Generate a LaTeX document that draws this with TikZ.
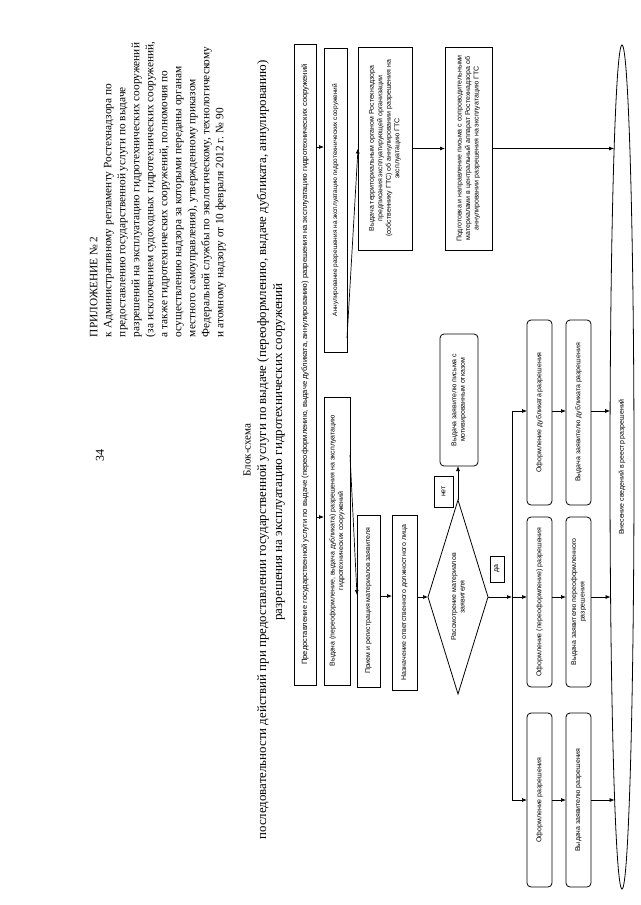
\documentclass[tikz,border=0pt]{standalone}
\usepackage{fontspec}
\setmainfont{Liberation Serif}
\newfontfamily\boxfont{Liberation Sans}
\usetikzlibrary{shapes.geometric,arrows.meta}
\begin{document}
\begin{tikzpicture}[x=1pt,y=-1pt,
  every node/.style={inner sep=0pt, outer sep=0pt},
  bx/.style={draw, line width=0.8pt, rectangle, rotate=90, align=center, inner sep=1pt, font=\boxfont\fontsize{7}{8.5}\selectfont},
  rbx/.style={bx, rounded corners=4pt},
  arr/.style={line width=0.7pt, -{Latex[length=5pt,width=4pt]}},
  ln/.style={line width=0.7pt},
  hdr/.style={rotate=90, align=left}
]
\fill[white] (0,0) rectangle (640,905);
\useasboundingbox (0,0) rectangle (640,905);

% header
\node[rotate=90, font=\fontsize{12}{14}\selectfont] (pg) at (100,455) {34};
\node[hdr, anchor=north west, font=\fontsize{11.3}{14}\selectfont] (hd) at (90,337) {ПРИЛОЖЕНИЕ № 2\\
к Административному регламенту Ростехнадзора по\\
предоставлению государственной услуги по выдаче\\
разрешений на эксплуатацию гидротехнических сооружений\\
(за исключением судоходных гидротехнических сооружений,\\
а также гидротехнических сооружений, полномочия по\\
осуществлению надзора за которыми переданы органам\\
местного самоуправления), утвержденному приказом\\
Федеральной службы по экологическому, технологическому\\
и атомному надзору от 10 февраля 2012 г. № 90};
\node[rotate=90, font=\fontsize{11}{13}\selectfont] (bs) at (247,450) {Блок-схема};
\node[rotate=90, font=\fontsize{12.9}{15}\selectfont] (t1) at (263,450) {последовательности действий при предоставлении государственной услуги по выдаче (переоформлению, выдаче дубликата, аннулированию)};
\node[rotate=90, font=\fontsize{13}{15}\selectfont] (t2) at (279,452) {разрешения на эксплуатацию гидротехнических сооружений};

% flowchart boxes
\node[bx, minimum width=641, minimum height=22, font=\boxfont\fontsize{7.6}{9}\selectfont] (A) at (305,364.5) {Предоставление государственной услуги по выдаче (переоформлению, выдаче дубликата, аннулированию) разрешения на эксплуатацию гидротехнических сооружений};
\node[bx, minimum width=304, minimum height=23, font=\boxfont\fontsize{6.5}{8}\selectfont] (Ann) at (335.5,200) {Аннулирование разрешения на эксплуатацию гидротехнических сооружений};
\node[bx, minimum width=288, minimum height=26] (B1) at (337,541) {Выдача (переоформление, выдача дубликата) разрешения на эксплуатацию\\гидротехнических сооружений};
\node[bx, minimum width=172, minimum height=23] (Pr) at (368.5,601) {Прием и регистрация материалов заявителя};
\node[bx, minimum width=175, minimum height=25] (Nz) at (404.5,602.5) {Назначение ответственного должностного лица};
\node[draw, diamond, rotate=90, shape aspect=3.2, minimum width=194, minimum height=60, inner sep=0pt, align=center, line width=0.8pt, font=\boxfont\fontsize{7}{8.5}\selectfont] (D) at (458,597) {Рассмотрение материалов\\заявителя};
\node[bx, minimum width=31, minimum height=19] (net) at (443.5,491.5) {нет};
\node[bx, minimum width=26, minimum height=14] (da) at (497,569) {да};
\node[rbx, minimum width=132, minimum height=38] (Ot) at (459,400) {Выдача заявителю письма с\\мотивированным отказом};
\node[bx, minimum width=203, minimum height=54] (Tr) at (385,148.5) {Выдача территориальным органом Ростехнадзора\\предписания эксплуатирующей организации\\(собственнику ГТС) об аннулировании разрешения на\\эксплуатацию ГТС};
\node[bx, minimum width=203, minimum height=47] (Pd) at (468.5,148.5) {Подготовка и направление письма с сопроводительными\\материалами в центральный аппарат Ростехнадзора об\\аннулировании разрешения на эксплуатацию ГТС};
\node[rbx, minimum width=185, minimum height=25] (R1a) at (539.5,412.5) {Оформление дубликата разрешения};
\node[rbx, minimum width=170, minimum height=25] (R1b) at (539.5,602) {Оформление (переоформление) разрешения};
\node[rbx, minimum width=174, minimum height=25] (R1c) at (539.5,800) {Оформление разрешения};
\node[rbx, minimum width=185, minimum height=25] (R2a) at (578.5,412.5) {Выдача заявителю дубликата разрешения};
\node[rbx, minimum width=170, minimum height=25] (R2b) at (578.5,602) {Выдача заявителю переоформленного\\разрешения};
\node[rbx, minimum width=174, minimum height=25] (R2c) at (578.5,800) {Выдача заявителю разрешения};
\node[draw, ellipse, rotate=90, minimum width=844, minimum height=24, inner sep=0pt, line width=0.8pt, font=\boxfont\fontsize{7}{8.5}\selectfont] (Ov) at (622,467) {Внесение сведений в реестр разрешений};

% coordinates
\coordinate (J1) at (512,411);
\coordinate (J2) at (512,597);
\coordinate (J3) at (512,800);
\coordinate (E0) at (614.1,148.5);
\coordinate (E1) at (610.1,411);
\coordinate (E2) at (610.6,597);
\coordinate (E3) at (614.6,800);

% connectors
\draw[arr] (A.south |- 0,147) -- (Ann.north |- 0,147);
\draw[arr] (A.south |- 0,517) -- (B1.north |- 0,517);
\draw[arr] (Ann.south |- 0,338) -- (Tr.north);
\draw[arr] (B1.south |- 0,455) -- (Pr.north |- 0,595);
\draw[arr] (Pr.south |- 0,596) -- (Nz.north |- 0,596);
\draw[arr] (Nz.south |- D.north) -- (D.north);
\draw[arr] (D.east) -- (D.east |- Ot.west);
\draw[arr] (D.south) -- (J2);
\draw[ln] (J1) -- (J3);
\draw[arr] (J1) -- (R1a.north |- J1);
\draw[arr] (J2) -- (R1b.north |- J2);
\draw[arr] (J3) -- (R1c.north |- J3);
\draw[arr] (R1a.south |- J1) -- (R2a.north |- J1);
\draw[arr] (R1b.south |- J2) -- (R2b.north |- J2);
\draw[arr] (R1c.south |- J3) -- (R2c.north |- J3);
\draw[arr] (R2a.south |- J1) -- (E1);
\draw[arr] (R2b.south |- J2) -- (E2);
\draw[arr] (R2c.south |- J3) -- (E3);
\draw[arr] (Tr.south) -- (Pd.north);
\draw[arr] (Pd.south) -- (E0);
\end{tikzpicture}
\end{document}
